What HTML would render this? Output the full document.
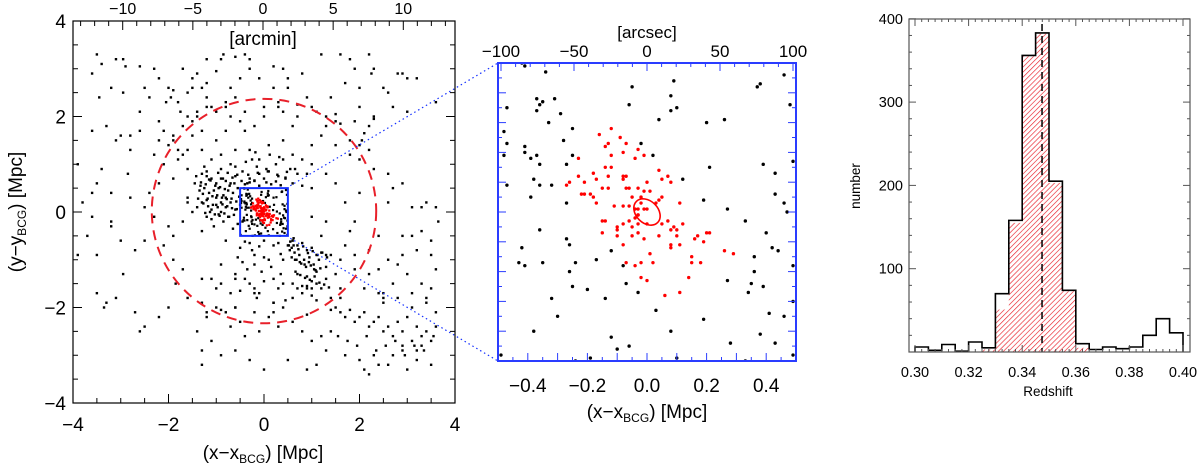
<!DOCTYPE html>
<html><head><meta charset="utf-8">
<style>
html,body{margin:0;padding:0;background:#fff;}
svg{display:block;font-family:"Liberation Sans",sans-serif;}
</style></head>
<body>
<svg id="fig" width="1200" height="466" viewBox="0 0 1200 466" xmlns="http://www.w3.org/2000/svg">
<defs>
<pattern id="hatch" patternUnits="userSpaceOnUse" width="3.6" height="3.6" patternTransform="rotate(45)">
<line x1="0" y1="0" x2="0" y2="3.6" stroke="#e8202a" stroke-width="1.3"/>
</pattern>
<clipPath id="clipL"><rect x="73" y="21" width="382" height="382"/></clipPath>
<clipPath id="clipM"><rect x="498" y="63" width="298" height="298"/></clipPath>
</defs>
<g id="left"></g>
<g id="mid"></g>
<g id="hist"></g>
</svg>
<script>
// ---------- DATA ----------
const midBlackX=[-0.42,-0.41,-0.34,0.09,-0.05,0.37,0.38,0.46,0.48,-0.47,-0.37,-0.36,-0.37,-0.35,-0.31,-0.06,0.08,0.08,0.10,-0.29,-0.33,0.04,0.20,0.26,-0.48,-0.25,-0.47,-0.28,-0.02,-0.41,-0.41,-0.48,-0.39,-0.37,-0.36,-0.25,-0.27,0.02,0.21,0.39,0.49,0.43,0.12,-0.38,-0.47,-0.36,-0.32,-0.39,-0.27,0.43,0.19,0.46,0.47,0.27,0.33,-0.36,0.40,0.42,0.44,-0.27,-0.26,-0.42,-0.43,-0.41,-0.35,-0.24,-0.17,-0.12,0.36,0.36,0.49,-0.26,-0.08,-0.07,-0.03,-0.25,-0.20,-0.14,-0.32,0.27,0.35,0.34,0.39,-0.30,0.03,0.19,0.41,0.46,0.49,-0.38,0.08,0.38,0.43,0.28,-0.12,-0.06,-0.10,-0.49,-0.24,-0.19,0.10,0.33,0.49];
const midBlackY=[0.50,0.49,0.47,0.44,0.42,0.42,0.43,0.46,0.36,0.35,0.38,0.36,0.34,0.37,0.38,0.36,0.39,0.34,0.35,0.33,0.30,0.31,0.30,0.31,0.27,0.28,0.23,0.24,0.23,0.22,0.20,0.19,0.18,0.19,0.16,0.19,0.16,0.19,0.15,0.16,0.17,0.13,0.11,0.11,0.09,0.09,0.09,0.05,0.03,0.06,0.04,0.03,0.00,0.01,-0.03,-0.06,-0.07,-0.12,-0.13,-0.09,-0.11,-0.12,-0.17,-0.18,-0.17,-0.17,-0.16,-0.13,-0.15,-0.20,-0.18,-0.20,-0.18,-0.24,-0.27,-0.25,-0.26,-0.29,-0.29,-0.23,-0.24,-0.27,-0.25,-0.35,-0.33,-0.36,-0.34,-0.35,-0.30,-0.40,-0.40,-0.41,-0.44,-0.44,-0.42,-0.45,-0.46,-0.48,-0.50,-0.49,-0.49,-0.50,-0.48];
const redX=[-0.12,-0.09,-0.16,-0.13,-0.14,-0.07,-0.03,-0.08,-0.12,-0.23,-0.04,-0.01,-0.14,-0.12,-0.18,-0.23,-0.17,-0.13,-0.08,-0.07,0.04,0.07,0.05,0.08,-0.26,-0.27,-0.21,-0.08,-0.06,-0.07,-0.03,0.00,-0.15,-0.13,-0.22,-0.21,-0.19,-0.18,-0.01,0.01,-0.05,-0.02,0.05,0.04,0.03,-0.17,-0.08,-0.06,-0.11,0.11,-0.04,-0.03,-0.03,-0.01,0.00,-0.02,-0.04,-0.03,-0.15,-0.14,-0.06,0.07,0.05,0.12,-0.10,-0.08,-0.05,-0.03,0.00,0.08,0.09,0.10,-0.15,-0.10,-0.10,-0.03,-0.01,0.04,0.10,0.17,0.16,0.20,0.21,0.19,-0.05,-0.08,0.08,0.08,0.11,0.01,0.15,0.15,0.18,0.26,0.29,-0.07,-0.04,-0.02,0.02,-0.02,0.00,0.14,0.06,0.11];
const redY=[0.28,0.25,0.26,0.23,0.22,0.23,0.21,0.20,0.19,0.18,0.18,0.19,0.15,0.15,0.13,0.12,0.11,0.12,0.12,0.12,0.14,0.12,0.11,0.10,0.10,0.09,0.10,0.11,0.08,0.08,0.08,0.10,0.08,0.08,0.06,0.06,0.06,0.05,0.07,0.07,0.05,0.05,0.05,0.04,0.03,0.03,0.02,0.02,0.02,0.03,0.01,0.01,-0.01,0.01,0.01,0.03,-0.02,-0.01,-0.03,-0.03,-0.03,-0.03,-0.04,-0.04,-0.05,-0.04,-0.05,-0.04,-0.04,-0.06,-0.05,-0.06,-0.07,-0.06,-0.08,-0.07,-0.09,-0.08,-0.08,-0.08,-0.09,-0.07,-0.07,-0.10,-0.08,-0.11,-0.11,-0.12,-0.11,-0.14,-0.15,-0.17,-0.17,-0.13,-0.14,-0.17,-0.18,-0.17,-0.17,-0.22,-0.23,-0.22,-0.28,-0.27];
const outX=[-3.5,-3.4,-3.6,-3.1,-2.95,-2.9,-2.6,-3.2,-2.5,-3.45,-2.95,-2.4,-2.6,-2.3,-2.2,-1.7,-2.0,-1.95,-1.8,-1.6,-1.5,-1.5,-1.2,-1.3,-1.2,-1.1,-1.2,-0.9,-0.85,-0.6,-0.4,-0.3,-0.7,-0.5,-0.1,0.2,0.4,0.5,0.5,0.8,-0.8,-0.6,0.3,1.4,1.6,1.8,1.9,2.2,2.3,2.25,2.0,2.5,2.6,2.8,2.9,3.0,3.2,3.6,2.7,2.0,1.2,1.7,2.3,2.3,2.2,2.0,2.05,3.0,-1.9,-2.05,-1.75,-1.4,-1.0,-0.3,0.9,1.1,1.5,0.2,
-3.0,-2.8,-2.6,-2.2,-2.3,-1.8,-1.7,-1.5,-1.3,-1.3,-1.0,-0.8,-0.5,-0.4,-0.2,0.4,0.6,0.8,1.0,1.3,1.5,0.1,-0.1,-0.6,-0.9,-1.1,-1.9,-2.4,-2.5,-3.2,-3.5,-3.6,-2.85,-3.9,-3.8,-3.6,-3.2,-3.0,-2.7,-2.5,-2.3,-2.0,-1.9,-3.9,-3.5,-3.7,-1.6,-2.1,-2.2,-1.9,-1.6,-1.4,-0.7,0.0,0.3,0.7,1.2,1.8,0.6,-0.3,
-1.3,-1.2,-1.1,-1.0,-0.9,-0.8,-0.7,-0.6,-1.35,-1.25,-1.15,-1.05,-0.95,-0.85,-0.75,-0.65,-0.55,-1.3,-1.2,-1.0,-0.9,-0.8,-0.7,-1.1,-1.0,-0.9,-0.8,-0.6,-0.5,-1.2,-1.1,-0.95,-0.85,-0.75,-0.55,-1.4,-1.05,-0.65,-0.45,-1.45,-1.25,-0.9,-0.7,-0.45,-0.3,-0.2,-0.1,0.0,0.1,0.3,0.45,0.6,-0.35,-0.15,0.05,0.25,0.55,0.7,0.8,-0.6,-0.25,0.4,0.65,0.9,1.0,-1.6,-1.5,-1.7,-1.3,-1.6,
0.6,0.7,0.8,0.9,1.0,1.1,1.2,0.65,0.75,0.85,0.95,1.05,1.15,1.3,1.4,0.7,0.9,1.1,1.3,1.5,0.6,0.8,1.0,1.2,1.6,0.5,0.3,0.0,-0.3,-0.5,-0.8,-0.2,0.1,0.4,-0.6,-0.4,1.7,1.9,1.6,1.4,-0.9,-1.1,-0.2,0.2,
1.0,1.3,1.5,1.7,1.9,2.0,2.3,2.6,2.7,2.6,2.9,3.1,3.3,3.4,3.6,3.65,3.1,2.9,3.2,3.5,3.6,1.3,1.0,2.2,2.4,1.8,2.8,3.3,3.5,1.2,
-3.5,-3.3,-3.35,-3.1,-2.95,-2.6,-2.7,-2.5,-2.2,-2.0,-1.85,-1.6,-1.2,-1.0,-0.8,-0.5,-0.2,0.1,0.4,0.6,-1.4,-1.1,-0.7,-0.4,-0.1,0.3,0.8,1.0,1.2,1.4,-1.3,-0.9,-0.6,-0.3,0.0,0.5,-1.3,-1.3,-1.0,-0.9,-0.2,-0.1,0.2,0.4,0.6,0.9,1.0,1.1,-1.7,
1.5,1.6,1.7,1.8,1.9,2.0,2.1,2.2,2.3,2.4,2.5,2.6,2.7,2.8,2.9,3.0,3.1,3.2,3.3,3.4,3.5,3.6,1.55,1.75,1.95,2.15,2.35,2.55,2.75,2.95,3.15,3.35,3.55,1.7,2.0,2.3,2.6,2.9,3.2,3.5,2.1,2.4,2.7,3.0,3.3,1.3,1.1,0.9,2.2,2.5,2.8,3.1,3.4,3.6,2.5,2.9,3.2];
const outY=[3.3,3.1,2.9,3.2,3.2,3.05,3.05,2.6,2.6,2.4,2.5,2.4,2.1,3.0,2.8,3.0,2.6,2.4,2.3,2.5,2.6,2.8,2.7,2.6,2.4,2.2,3.2,3.2,3.3,3.25,3.3,3.2,2.6,2.8,2.8,2.6,3.0,2.8,2.6,2.9,2.3,2.4,2.3,2.4,3.3,3.2,3.0,3.3,3.0,2.9,2.6,2.6,2.5,2.9,2.9,2.8,2.8,2.3,2.2,2.2,3.3,2.7,2.0,1.95,1.8,1.4,1.5,2.1,2.55,2.3,2.1,2.9,2.95,3.0,2.4,2.1,2.05,3.05,
1.6,1.6,1.7,1.9,1.2,1.3,1.2,1.6,1.7,1.3,1.5,1.7,1.9,1.7,1.8,1.5,1.8,1.1,1.4,1.8,1.9,1.4,1.1,1.3,1.2,1.1,0.7,0.4,0.1,0.4,0.6,0.4,0.8,1.0,0.2,-0.1,-0.3,-0.6,-0.8,-0.6,-0.1,-0.3,-0.5,-0.9,-0.9,-0.5,0.9,1.0,0.6,1.5,2.0,2.0,2.0,2.0,2.2,2.0,1.6,1.2,1.2,1.3,
0.8,0.75,0.7,0.6,0.7,0.65,0.6,0.75,0.45,0.5,0.4,0.45,0.5,0.35,0.45,0.4,0.5,0.2,0.25,0.3,0.2,0.3,0.2,0.05,0.15,0.0,0.1,0.05,0.15,-0.1,-0.15,-0.05,-0.2,-0.1,-0.25,0.1,-0.3,-0.35,-0.2,0.6,0.95,0.9,1.0,0.85,0.7,0.65,0.8,0.7,0.85,0.75,0.7,0.6,0.6,0.95,0.9,1.0,0.9,0.8,0.55,0.95,1.1,1.1,0.9,0.8,1.0,0.2,0.0,-0.2,-0.4,0.3,
-0.6,-0.7,-0.65,-0.8,-0.75,-0.9,-0.85,-1.0,-1.05,-1.1,-0.95,-1.2,-1.0,-1.15,-0.9,-1.3,-1.35,-1.25,-1.4,-1.3,-1.5,-1.55,-1.45,-1.6,-1.6,-0.7,-0.65,-0.6,-0.65,-0.75,-0.6,-0.9,-1.0,-1.0,-1.3,-1.4,-0.7,-0.9,-1.8,-1.8,-1.1,-1.4,-1.7,-1.9,
0.5,0.8,0.6,0.2,-0.2,0.4,0.9,0.8,0.5,0.2,0.6,0.1,0.1,0.2,0.1,-0.2,-0.5,-0.5,-0.8,-0.9,-1.2,-0.2,-0.1,-0.8,-0.5,-0.4,-1.1,-1.5,-1.6,-0.5,
-1.7,-1.9,-2.0,-1.8,-1.3,-2.5,-2.1,-2.4,-2.2,-2.0,-1.5,-1.8,-2.2,-2.0,-2.1,-2.3,-2.1,-2.2,-2.0,-2.3,-2.5,-2.7,-2.4,-2.6,-2.5,-2.4,-2.5,-2.7,-2.6,-2.5,-2.9,-3.0,-2.9,-3.1,-3.3,-3.1,-3.2,-1.4,-1.6,-1.5,-1.6,-1.7,-1.4,-1.5,-1.8,-1.6,-1.6,-1.5,-1.2,
-2.0,-2.1,-2.2,-2.05,-2.3,-2.2,-2.1,-2.4,-2.3,-2.2,-2.5,-2.4,-2.6,-2.3,-2.5,-2.2,-2.7,-2.4,-2.6,-2.5,-2.7,-2.4,-2.6,-2.7,-2.8,-2.6,-2.9,-2.8,-2.7,-3.0,-2.8,-2.9,-2.6,-3.0,-3.1,-3.0,-3.2,-2.9,-3.1,-3.2,-3.3,-3.2,-3.0,-3.3,-2.8,-2.9,-3.2,-3.3,-3.4,-1.9,-1.8,-2.0,-1.9,-2.1,-1.7,-2.8,-2.9,-3.0];
// additional field galaxies (Mpc)
const moreX=[-1.32,-1.22,-1.12,-1.02,-0.92,-0.82,-0.72,-0.62,-0.52,-1.28,-1.18,-1.08,-0.98,-0.88,-0.78,-0.68,-0.58,-1.38,-1.27,-1.17,-1.07,-0.97,-0.87,-0.77,-0.67,-0.57,-1.23,-1.13,-1.03,-0.93,-0.83,-0.73,-0.63,-1.33,-1.2,-0.96,-0.76,-0.56,-1.42,-1.15,-0.86,-0.66,-0.47,-0.4,-0.3,-0.2,-0.1,0.05,0.15,0.25,0.35,0.45,-0.33,-0.13,0.08,0.28,0.48,-0.38,-0.18,0.12,0.32,
0.55,0.62,0.72,0.82,0.92,1.02,1.12,1.22,1.32,0.58,0.68,0.78,0.88,0.98,1.08,1.18,0.66,0.76,0.86,0.96,1.06,1.16,1.26,1.36,0.54,0.64,0.74,0.84,0.94,1.04,0.7,0.8,0.9,1.0,1.1,0.62,0.52,0.58,0.2,-0.1,-0.4,0.35,0.0,-0.25,
-0.55,-0.45,-0.35,-0.2,-0.05,0.15,0.35,-0.6,-0.3,0.0,0.3,-0.7,-0.5,-0.15,0.2,0.45,
-1.8,-1.6,-2.0,-1.9,-1.7,-2.1,-2.2,-1.5,-1.4,-1.2,-1.0,-0.8,-0.4,0.0,0.4,0.7,1.0,1.3,1.6,1.9,2.1,1.8,1.5,2.0,2.2,-0.6,-0.9,-1.2,
-3.3,-3.1,-2.8,-3.6,-3.4,-2.1,-1.9,-1.3,-0.6,0.2,0.9,1.4,2.5,3.1,3.4,-2.8,-3.2,3.3,3.5,2.9,2.6,2.4,2.2,1.9,1.6,1.3,3.0,2.7,2.4,2.1];
const moreY=[0.62,0.58,0.66,0.55,0.52,0.48,0.55,0.6,0.32,0.38,0.28,0.33,0.35,0.3,0.27,0.28,0.22,0.28,0.18,0.12,0.15,0.1,0.16,0.12,0.08,0.06,-0.02,0.0,-0.05,-0.08,-0.03,-0.1,-0.06,0.55,0.85,0.82,0.82,0.78,0.75,0.68,0.7,0.72,0.65,0.58,0.62,0.66,0.55,0.62,0.58,0.64,0.56,0.72,0.78,0.82,0.85,0.78,0.84,1.05,1.25,1.2,1.15,
-0.62,-0.7,-0.78,-0.72,-0.86,-0.82,-0.9,-0.85,-0.95,-0.95,-1.0,-1.08,-1.15,-1.12,-1.22,-1.18,-1.25,-1.32,-1.38,-1.42,-1.35,-1.48,-1.52,-1.58,-0.8,-0.85,-0.9,-1.0,-1.05,-1.1,-1.6,-1.7,-1.55,-1.75,-1.85,-0.55,-0.7,-0.75,-0.7,-0.72,-0.62,-0.88,-0.95,-0.8,
-0.95,-1.05,-1.2,-1.1,-1.25,-1.15,-1.3,-1.4,-1.5,-1.45,-1.6,-1.7,-1.65,-1.8,-1.9,-1.85,
1.1,1.3,1.4,1.6,1.8,1.7,1.5,1.9,2.1,2.2,2.1,2.2,2.1,2.2,2.1,2.25,2.2,2.0,1.85,1.9,1.65,1.5,1.4,1.1,1.3,-2.0,-2.05,-2.1,
1.8,1.5,1.3,1.7,0.9,-0.7,-1.0,-1.9,-2.0,-2.1,-2.15,-2.05,-1.8,-1.7,-1.8,0.3,-0.2,-0.4,-0.6,-0.9,-1.0,-1.2,-1.3,-1.2,-1.0,-0.9,-1.3,-1.5,-1.7,-1.6];
const binEdges0=0.300, binWidth=0.005;
const allCounts=[6,2,9,1,12,5,70,158,356,383,205,74,10,3,6,4,6,20,40,23];
const memberCounts=[0,0,0,0,0,3,51,155,355,382,203,73,5,0,0,0,0,0,0,0];
const zBCG=0.3474;
const histYTicks=[100,200,300,400];
const histXTicks=[0.30,0.32,0.34,0.36,0.38,0.40];
const leftTicks=[-4,-2,0,2,4];
const arcminTicks=[-10,-5,0,5,10];
const midTicks=[-0.4,-0.2,0.0,0.2,0.4];
const arcsecTicks=[-100,-50,0,50,100];
const circleR=2.35;

const NS="http://www.w3.org/2000/svg";
function mk(parent,tag,attrs,text){const e=document.createElementNS(NS,tag);for(const k in attrs)e.setAttribute(k,attrs[k]);if(text!==undefined)e.textContent=text;parent.appendChild(e);return e;}

// ---------- LEFT PANEL ----------
const L=document.getElementById('left');
const lx=v=>73+(v+4)*47.75, ly=v=>212-v*47.75;
const amx=a=>263+a*14.03;
const lpts=mk(L,'g',{'clip-path':'url(#clipL)'});


for(let i=0;i<outX.length;i++){const r=mk(lpts,'rect',{x:lx(outX[i])-1.2,y:ly(outY[i])-1.2,width:2.4,height:2.4,fill:'#000'});

}
for(let i=0;i<moreX.length;i++){const r=mk(lpts,'rect',{x:lx(moreX[i])-1.2,y:ly(moreY[i])-1.2,width:2.4,height:2.4,fill:'#000'});

}
for(let i=0;i<midBlackX.length;i++){const r=mk(lpts,'rect',{x:lx(midBlackX[i])-1.1,y:ly(midBlackY[i])-1.1,width:2.2,height:2.2,fill:'#000'});

}
for(let i=0;i<redX.length;i++){const r=mk(lpts,'rect',{x:lx(redX[i])-1.1,y:ly(redY[i])-1.1,width:2.2,height:2.2,fill:'#f00'});

}
const circ=mk(L,'circle',{cx:lx(0),cy:ly(0.02),r:circleR*47.75,fill:'none',stroke:'#e8202a','stroke-width':2,'stroke-dasharray':'10 7'});


const box=mk(L,'rect',{x:lx(-0.5),y:ly(0.5),width:lx(0.5)-lx(-0.5),height:ly(-0.5)-ly(0.5),fill:'none',stroke:'#1530ff','stroke-width':2});


const d1=mk(L,'line',{x1:lx(0.55),y1:ly(0.55),x2:498,y2:63,stroke:'#1530ff','stroke-width':1.2,'stroke-dasharray':'1.5 3'});


const d2=mk(L,'line',{x1:lx(0.55),y1:ly(-0.55),x2:498,y2:361,stroke:'#1530ff','stroke-width':1.2,'stroke-dasharray':'1.5 3'});


const fr=mk(L,'rect',{x:73,y:21,width:382,height:382,fill:'none',stroke:'#000','stroke-width':1.2});


for(let v=-4;v<=4.001;v+=0.5){const maj=Math.abs(v%2)<1e-6, len=maj?9:5;
mk(L,'line',{x1:lx(v),y1:403,x2:lx(v),y2:403-len,stroke:'#000'});
mk(L,'line',{x1:73,y1:ly(v),x2:73+len,y2:ly(v),stroke:'#000'});
mk(L,'line',{x1:455,y1:ly(v),x2:455-len,y2:ly(v),stroke:'#000'});}
for(let a=-13;a<=13;a++){const x=amx(a);if(x<73||x>455)continue;const len=a%5===0?9:5;mk(L,'line',{x1:x,y1:21,x2:x,y2:21+len,stroke:'#000'});}
leftTicks.forEach(v=>{const t=mk(L,'text',{x:lx(v),y:431,'font-size':19,'text-anchor':'middle'},String(v).replace('-','\u2212'));


const t2=mk(L,'text',{x:66,y:ly(v)+7,'font-size':19,'text-anchor':'end'},String(v).replace('-','\u2212'));

});
arcminTicks.forEach(a=>{const t=mk(L,'text',{x:amx(a),y:14,'font-size':16,'text-anchor':'middle'},String(a).replace('-','\u2212'));

});
L.insertAdjacentHTML('beforeend',
'<text x="263" y="45" font-size="19" text-anchor="middle">[arcmin]</text>'+
'<text x="263" y="459" font-size="19" text-anchor="middle">(x\u2212x<tspan font-size="12" dy="4">BCG</tspan><tspan dy="-4">) [Mpc]</tspan></text>'+
'<text transform="translate(22,212) rotate(-90)" font-size="19" text-anchor="middle">(y\u2212y<tspan font-size="12" dy="4">BCG</tspan><tspan dy="-4">) [Mpc]</tspan></text>');

// ---------- MIDDLE PANEL ----------
(function(){
const M=document.getElementById('mid');
const mx=v=>647+v*298, my=v=>212-v*298, asx=a=>647+a*1.46;
const g=mk(M,'g',{'clip-path':'url(#clipM)'});


for(let i=0;i<midBlackX.length;i++){const c=mk(g,'circle',{cx:mx(midBlackX[i]),cy:my(midBlackY[i]),r:1.7,fill:'#000'});

}
for(let i=0;i<redX.length;i++){const c=mk(g,'circle',{cx:mx(redX[i]),cy:my(redY[i]),r:1.7,fill:'#f00'});

}
const el=mk(M,'ellipse',{cx:mx(0),cy:my(0),rx:15,ry:11,transform:`rotate(45 ${mx(0)} ${my(0)})`,fill:'none',stroke:'#f00','stroke-width':1.6});


const fr=mk(M,'rect',{x:498,y:63,width:298,height:298,fill:'none',stroke:'#2a3cff','stroke-width':2});


for(let k=-10;k<=10;k++){const v=k*0.05,len=(k%2===0)?8:4;
mk(M,'line',{x1:mx(v),y1:361,x2:mx(v),y2:361-len,stroke:'#2a3cff'});
mk(M,'line',{x1:498,y1:my(v),x2:498+len,y2:my(v),stroke:'#2a3cff'});
mk(M,'line',{x1:796,y1:my(v),x2:796-len,y2:my(v),stroke:'#2a3cff'});}
for(let a=-100;a<=100;a+=10){const len=a%50===0?8:4;mk(M,'line',{x1:asx(a),y1:63,x2:asx(a),y2:63+len,stroke:'#2a3cff'});}
midTicks.forEach(v=>{const t=mk(M,'text',{x:mx(v),y:392,'font-size':19,'text-anchor':'middle'},v.toFixed(1).replace('-','\u2212'));

});
arcsecTicks.forEach(a=>{const t=mk(M,'text',{x:asx(a),y:57,'font-size':17,'text-anchor':'middle'},String(a).replace('-','\u2212'));

});
M.insertAdjacentHTML('beforeend',
'<text x="647" y="38" font-size="17" text-anchor="middle">[arcsec]</text>'+
'<text x="647" y="418" font-size="19" text-anchor="middle">(x\u2212x<tspan font-size="12" dy="4">BCG</tspan><tspan dy="-4">) [Mpc]</tspan></text>');
})();

// ---------- HISTOGRAM ----------
(function(){
const H=document.getElementById('hist');
const hx=z=>915+(z-0.300)*2680, hy=n=>352-n*0.833;
for(let i=0;i<memberCounts.length;i++){if(!memberCounts[i])continue;const z0=binEdges0+i*binWidth;
const r=mk(H,'rect',{x:hx(z0),y:hy(memberCounts[i]),width:hx(z0+binWidth)-hx(z0),height:352-hy(memberCounts[i]),fill:'url(#hatch)'});

}
let d=`M${hx(binEdges0)} 352`;
for(let i=0;i<allCounts.length;i++){const z0=binEdges0+i*binWidth;d+=` L${hx(z0)} ${hy(allCounts[i])} L${hx(z0+binWidth)} ${hy(allCounts[i])}`;}
d+=` L${hx(binEdges0+allCounts.length*binWidth)} 352`;
const p=mk(H,'path',{d:d,fill:'none',stroke:'#000','stroke-width':1.6});


const dl=mk(H,'line',{x1:hx(zBCG),y1:24,x2:hx(zBCG),y2:352,stroke:'#000','stroke-width':1.5,'stroke-dasharray':'7 5'});


const fr=mk(H,'rect',{x:909,y:19,width:281,height:333,fill:'none',stroke:'#555','stroke-width':1.2});


for(let z=0.300;z<=0.4001;z+=0.0025){const k=Math.round((z-0.3)/0.0025),len=k%8===0?7:3;
mk(H,'line',{x1:hx(z),y1:352,x2:hx(z),y2:352-len,stroke:'#555'});
mk(H,'line',{x1:hx(z),y1:19,x2:hx(z),y2:19+len,stroke:'#555'});}
for(let n=0;n<=400;n+=20){const len=n%100===0?7:3;
mk(H,'line',{x1:909,y1:hy(n),x2:909+len,y2:hy(n),stroke:'#555'});
mk(H,'line',{x1:1190,y1:hy(n),x2:1190-len,y2:hy(n),stroke:'#555'});}
histXTicks.forEach(z=>{const t=mk(H,'text',{x:hx(z),y:377,'font-size':14.5,'text-anchor':'middle'},z.toFixed(2));

});
histYTicks.forEach(n=>{const t=mk(H,'text',{x:903,y:hy(n)+5,'font-size':14.5,'text-anchor':'end'},String(n));

});
H.insertAdjacentHTML('beforeend',
'<text x="1048" y="396" font-size="13.5" text-anchor="middle">Redshift</text>'+
'<text transform="translate(860,186) rotate(-90)" font-size="13.5" text-anchor="middle">number</text>');
})();
</script>
</body></html>
